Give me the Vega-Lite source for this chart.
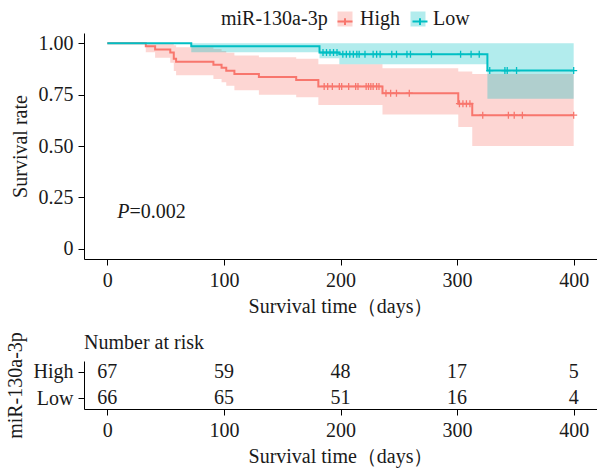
{
  "$schema": "https://vega.github.io/schema/vega-lite/v6.json",
  "padding": {"left": 5, "top": 9, "right": 0, "bottom": 2},
  "spacing": 102,
  "bounds": "flush",
  "config": {
    "font": "Liberation Serif",
    "view": {"stroke": null},
    "axis": {
      "domainColor": "#000000",
      "domainWidth": 1,
      "tickColor": "#000000",
      "tickWidth": 1,
      "tickSize": 6,
      "labelColor": "#1a1a1a",
      "titleColor": "#1a1a1a",
      "labelFont": "Liberation Serif",
      "titleFont": "Liberation Serif",
      "labelFontSize": 20,
      "titleFontSize": 20,
      "titleFontWeight": "normal",
      "grid": false,
      "labelPadding": 5
    },
    "legend": {
      "labelFont": "Liberation Serif",
      "titleFont": "Liberation Serif",
      "labelFontSize": 20,
      "titleFontSize": 20,
      "titleFontWeight": "normal",
      "labelColor": "#1a1a1a",
      "titleColor": "#1a1a1a"
    },
    "title": {"font": "Liberation Serif", "fontSize": 20, "fontWeight": "normal", "color": "#1a1a1a"}
  },
  "datasets": {
    "curve": [
      {"group": "High", "t": 0, "s": 1},
      {"group": "High", "t": 33, "s": 0.985},
      {"group": "High", "t": 41, "s": 0.97},
      {"group": "High", "t": 54, "s": 0.955},
      {"group": "High", "t": 57, "s": 0.925},
      {"group": "High", "t": 59, "s": 0.91},
      {"group": "High", "t": 91, "s": 0.895},
      {"group": "High", "t": 98, "s": 0.881},
      {"group": "High", "t": 102, "s": 0.866},
      {"group": "High", "t": 109, "s": 0.851},
      {"group": "High", "t": 130, "s": 0.836},
      {"group": "High", "t": 162, "s": 0.821},
      {"group": "High", "t": 181, "s": 0.79},
      {"group": "High", "t": 236, "s": 0.757},
      {"group": "High", "t": 301, "s": 0.706},
      {"group": "High", "t": 313, "s": 0.65},
      {"group": "High", "t": 400, "s": 0.65},
      {"group": "Low", "t": 0, "s": 1},
      {"group": "Low", "t": 72, "s": 0.986},
      {"group": "Low", "t": 182, "s": 0.955},
      {"group": "Low", "t": 199, "s": 0.946},
      {"group": "Low", "t": 326, "s": 0.867},
      {"group": "Low", "t": 400, "s": 0.867}
    ],
    "ribbon": [
      {"group": "High", "t": 33, "lo": 0.956, "hi": 1},
      {"group": "High", "t": 41, "lo": 0.93, "hi": 1},
      {"group": "High", "t": 54, "lo": 0.905, "hi": 1},
      {"group": "High", "t": 57, "lo": 0.865, "hi": 0.99},
      {"group": "High", "t": 59, "lo": 0.844, "hi": 0.981},
      {"group": "High", "t": 91, "lo": 0.826, "hi": 0.972},
      {"group": "High", "t": 98, "lo": 0.81, "hi": 0.962},
      {"group": "High", "t": 102, "lo": 0.793, "hi": 0.954},
      {"group": "High", "t": 109, "lo": 0.771, "hi": 0.941},
      {"group": "High", "t": 130, "lo": 0.75, "hi": 0.932},
      {"group": "High", "t": 162, "lo": 0.737, "hi": 0.925},
      {"group": "High", "t": 181, "lo": 0.7, "hi": 0.898},
      {"group": "High", "t": 236, "lo": 0.653, "hi": 0.879},
      {"group": "High", "t": 301, "lo": 0.592, "hi": 0.863},
      {"group": "High", "t": 313, "lo": 0.5, "hi": 0.85},
      {"group": "High", "t": 400, "lo": 0.5, "hi": 0.85},
      {"group": "Low", "t": 72, "lo": 0.956, "hi": 1},
      {"group": "Low", "t": 182, "lo": 0.927, "hi": 1},
      {"group": "Low", "t": 199, "lo": 0.898, "hi": 1},
      {"group": "Low", "t": 326, "lo": 0.73, "hi": 1},
      {"group": "Low", "t": 400, "lo": 0.73, "hi": 1}
    ],
    "censor": [
      {"group": "High", "t": 186, "s": 0.79},
      {"group": "High", "t": 189, "s": 0.79},
      {"group": "High", "t": 193, "s": 0.79},
      {"group": "High", "t": 199, "s": 0.79},
      {"group": "High", "t": 201, "s": 0.79},
      {"group": "High", "t": 207, "s": 0.79},
      {"group": "High", "t": 213, "s": 0.79},
      {"group": "High", "t": 215, "s": 0.79},
      {"group": "High", "t": 222, "s": 0.79},
      {"group": "High", "t": 224, "s": 0.79},
      {"group": "High", "t": 226, "s": 0.79},
      {"group": "High", "t": 228, "s": 0.79},
      {"group": "High", "t": 231, "s": 0.79},
      {"group": "High", "t": 233, "s": 0.79},
      {"group": "High", "t": 239, "s": 0.757},
      {"group": "High", "t": 243, "s": 0.757},
      {"group": "High", "t": 248, "s": 0.757},
      {"group": "High", "t": 259, "s": 0.757},
      {"group": "High", "t": 302, "s": 0.706},
      {"group": "High", "t": 305, "s": 0.706},
      {"group": "High", "t": 308, "s": 0.706},
      {"group": "High", "t": 311, "s": 0.706},
      {"group": "High", "t": 322, "s": 0.65},
      {"group": "High", "t": 344, "s": 0.65},
      {"group": "High", "t": 349, "s": 0.65},
      {"group": "High", "t": 356, "s": 0.65},
      {"group": "High", "t": 400, "s": 0.65},
      {"group": "Low", "t": 185, "s": 0.955},
      {"group": "Low", "t": 188, "s": 0.955},
      {"group": "Low", "t": 191, "s": 0.955},
      {"group": "Low", "t": 194, "s": 0.955},
      {"group": "Low", "t": 197, "s": 0.955},
      {"group": "Low", "t": 202, "s": 0.946},
      {"group": "Low", "t": 205, "s": 0.946},
      {"group": "Low", "t": 208, "s": 0.946},
      {"group": "Low", "t": 211, "s": 0.946},
      {"group": "Low", "t": 214, "s": 0.946},
      {"group": "Low", "t": 216, "s": 0.946},
      {"group": "Low", "t": 221, "s": 0.946},
      {"group": "Low", "t": 228, "s": 0.946},
      {"group": "Low", "t": 231, "s": 0.946},
      {"group": "Low", "t": 234, "s": 0.946},
      {"group": "Low", "t": 244, "s": 0.946},
      {"group": "Low", "t": 248, "s": 0.946},
      {"group": "Low", "t": 257, "s": 0.946},
      {"group": "Low", "t": 260, "s": 0.946},
      {"group": "Low", "t": 278, "s": 0.946},
      {"group": "Low", "t": 303, "s": 0.946},
      {"group": "Low", "t": 312, "s": 0.946},
      {"group": "Low", "t": 319, "s": 0.946},
      {"group": "Low", "t": 328, "s": 0.867},
      {"group": "Low", "t": 341, "s": 0.867},
      {"group": "Low", "t": 343, "s": 0.867},
      {"group": "Low", "t": 351, "s": 0.867},
      {"group": "Low", "t": 400, "s": 0.867}
    ],
    "annot": [
      {"t": 19, "s": 0.15, "p": "P", "v": "=0.002"}
    ],
    "risk": [
      {"group": "High", "t": 0, "n": 67},
      {"group": "High", "t": 100, "n": 59},
      {"group": "High", "t": 200, "n": 48},
      {"group": "High", "t": 300, "n": 17},
      {"group": "High", "t": 400, "n": 5},
      {"group": "Low", "t": 0, "n": 66},
      {"group": "Low", "t": 100, "n": 65},
      {"group": "Low", "t": 200, "n": 51},
      {"group": "Low", "t": 300, "n": 16},
      {"group": "Low", "t": 400, "n": 4}
    ]
  },
  "vconcat": [
    {
      "width": 513,
      "height": 226,
      "encoding": {
        "x": {
          "field": "t",
          "type": "quantitative",
          "scale": {"domain": [-20, 420], "nice": false, "zero": false},
          "axis": {"values": [0, 100, 200, 300, 400], "title": "Survival time（days）", "titlePadding": 6}
        }
      },
      "layer": [
        {
          "data": {"name": "ribbon"},
          "mark": {"type": "area", "interpolate": "step-after", "opacity": 0.3},
          "encoding": {
            "y": {
              "field": "lo",
              "type": "quantitative",
              "scale": {"domain": [-0.05, 1.05], "nice": false, "zero": false},
              "axis": {
                "values": [0, 0.25, 0.5, 0.75, 1],
                "labelExpr": "datum.value == 0 ? '0' : format(datum.value, '.2f')",
                "title": "Survival rate",
                "titlePadding": 8
              }
            },
            "y2": {"field": "hi"},
            "fill": {
              "field": "group",
              "type": "nominal",
              "scale": {"domain": ["High", "Low"], "range": ["#F8766D", "#00BFC4"]},
              "legend": {
                "orient": "none",
                "legendX": 137,
                "legendY": -24,
                "direction": "horizontal",
                "title": "miR-130a-3p",
                "titleOrient": "left",
                "titlePadding": 7,
                "symbolType": "square",
                "symbolSize": 225,
                "symbolOpacity": 0.3,
                "symbolStrokeWidth": 0,
                "labelOffset": 5,
                "columnPadding": 8
              }
            }
          }
        },
        {
          "data": {"name": "curve"},
          "mark": {"type": "line", "interpolate": "step-after", "strokeWidth": 2},
          "encoding": {
            "y": {"field": "s", "type": "quantitative"},
            "stroke": {
              "field": "group",
              "type": "nominal",
              "scale": {"range": ["#F8766D", "#00BFC4"]},
              "legend": {
                "orient": "none",
                "legendX": 251,
                "legendY": -21.5,
                "direction": "horizontal",
                "title": null,
                "labelExpr": "''",
                "symbolType": "M-1,0H1M0,-0.45V0.45",
                "symbolSize": 225,
                "symbolStrokeWidth": 2,
                "symbolFillColor": "transparent",
                "labelOffset": 5,
                "columnPadding": 48
              }
            }
          }
        },
        {
          "data": {"name": "censor"},
          "mark": {"type": "point", "shape": "M-1,0H1M0,-1V1", "size": 49, "filled": false, "strokeWidth": 1.3, "opacity": 1},
          "encoding": {
            "y": {"field": "s", "type": "quantitative"},
            "stroke": {"field": "group", "type": "nominal"}
          }
        },
        {
          "data": {"name": "annot"},
          "mark": {"type": "text", "align": "right", "baseline": "alphabetic", "fontSize": 20, "fontStyle": "italic", "color": "#1a1a1a"},
          "encoding": {
            "y": {"field": "s", "type": "quantitative"},
            "text": {"field": "p"}
          }
        },
        {
          "data": {"name": "annot"},
          "mark": {"type": "text", "align": "left", "baseline": "alphabetic", "fontSize": 20, "color": "#1a1a1a"},
          "encoding": {
            "y": {"field": "s", "type": "quantitative"},
            "text": {"field": "v"}
          }
        }
      ]
    },
    {
      "width": 513,
      "height": 48,
      "title": {"text": "Number at risk", "anchor": "start", "frame": "group", "offset": -21},
      "data": {"name": "risk"},
      "mark": {"type": "text", "fontSize": 20, "color": "#1a1a1a", "baseline": "middle"},
      "encoding": {
        "x": {
          "field": "t",
          "type": "quantitative",
          "scale": {"domain": [-20, 420], "nice": false, "zero": false},
          "axis": {"values": [0, 100, 200, 300, 400], "title": "Survival time（days）", "titlePadding": 6}
        },
        "y": {
          "field": "group",
          "type": "nominal",
          "scale": {"type": "point", "domain": ["High", "Low"], "padding": 0.39},
          "axis": {"title": "miR-130a-3p", "titlePadding": 8}
        },
        "text": {"field": "n", "type": "quantitative"}
      }
    }
  ]
}
